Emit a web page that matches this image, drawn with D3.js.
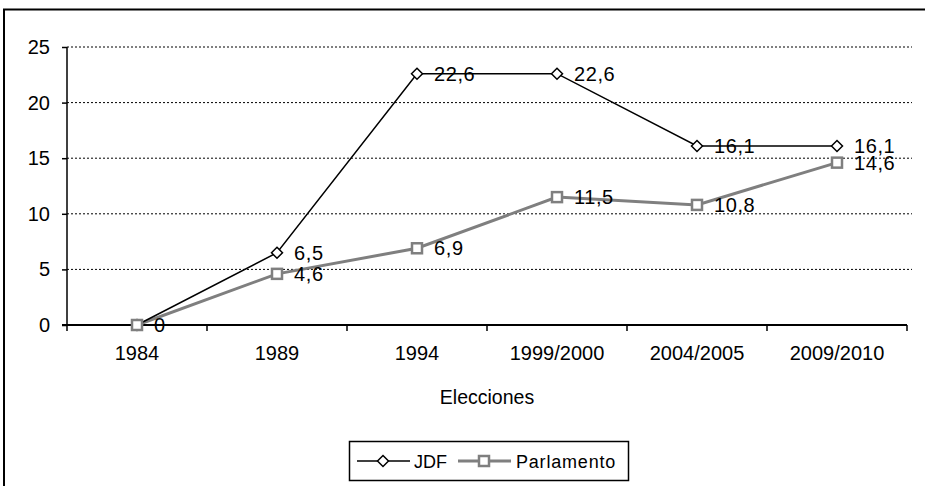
<!DOCTYPE html>
<html><head><meta charset="utf-8">
<script src="https://cdn.jsdelivr.net/npm/d3@7"></script>
<style>body{margin:0;background:#fff}svg{display:block;font-family:"Liberation Sans",Arial,sans-serif}</style>
</head><body><svg id="c" width="925" height="486"></svg>
<script>
const categories = ["1984","1989","1994","1999/2000","2004/2005","2009/2010"];
const jdf = [0,6.5,22.6,22.6,16.1,16.1];
const parlamento = [0,4.6,6.9,11.5,10.8,14.6];
const jdfLabels = ["","6,5","22,6","22,6","16,1","16,1"];
const parLabels = ["0","4,6","6,9","11,5","10,8","14,6"];
const yTicks = [0,5,10,15,20,25];

const svg = d3.select("#c");
svg.append("path").attr("d","M4,486V9.5H925").attr("fill","none").attr("stroke","#000").attr("stroke-width",2);

const x0 = 67, x1 = 907, yTop = 47, yBot = 325;
const x = d3.scaleBand().domain(categories).range([x0,x1]);
const y = d3.scaleLinear().domain([0,25]).range([yBot,yTop]);
const cx = c => x(c) + x.bandwidth()/2;

svg.append("g").selectAll("line").data(yTicks.filter(t=>t>0)).join("line")
  .attr("x1",x0).attr("x2",912).attr("y1",d=>y(d)).attr("y2",d=>y(d))
  .attr("stroke","#000").attr("stroke-width",1).attr("stroke-dasharray","2,2");

const ya = svg.append("g").attr("transform",`translate(${x0},0)`)
  .call(d3.axisLeft(y).tickValues(yTicks).tickSize(5).tickPadding(12).tickFormat(d3.format("d")));
ya.attr("font-size",20).attr("font-family","Liberation Sans, Arial");
ya.select(".domain").attr("stroke-width",1.5).attr("d",`M0,${yTop}V${yBot}`);
ya.selectAll(".tick line").attr("stroke-width",1.5);
ya.selectAll("text").attr("fill","#000");

const xa = svg.append("g").attr("transform",`translate(0,${yBot})`)
  .call(d3.axisBottom(x).tickSize(0).tickPadding(21));
xa.attr("font-size",20).attr("font-family","Liberation Sans, Arial");
xa.select(".domain").attr("stroke-width",2).attr("d",`M${x0-5},0H${x1}`);
xa.selectAll("text").attr("fill","#000");
svg.append("g").selectAll("line").data(d3.range(categories.length+1)).join("line")
  .attr("x1",i=>x0+i*x.step()).attr("x2",i=>x0+i*x.step())
  .attr("y1",yBot).attr("y2",yBot+6).attr("stroke","#000").attr("stroke-width",1.5);

svg.append("text").attr("x",(x0+x1)/2).attr("y",404).attr("text-anchor","middle")
  .attr("font-size",19.5).text("Elecciones");

const line = d3.line().x((d,i)=>cx(categories[i])).y(d=>y(d));
svg.append("path").datum(parlamento).attr("d",line).attr("fill","none").attr("stroke","#7f7f7f").attr("stroke-width",3);
svg.append("path").datum(jdf).attr("d",line).attr("fill","none").attr("stroke","#000").attr("stroke-width",1.5);

svg.append("g").selectAll("path").data(jdf).join("path")
  .attr("transform",(d,i)=>`translate(${cx(categories[i])},${y(d)})`)
  .attr("d","M0,-5.5L5.5,0L0,5.5L-5.5,0Z").attr("fill","#fff").attr("stroke","#000").attr("stroke-width",1.5);
svg.append("g").selectAll("rect").data(parlamento).join("rect")
  .attr("x",(d,i)=>cx(categories[i])-5).attr("y",d=>y(d)-5).attr("width",10).attr("height",10)
  .attr("fill","#fff").attr("stroke","#7f7f7f").attr("stroke-width",2.5);

svg.append("g").selectAll("text").data(jdf).join("text")
  .attr("x",(d,i)=>cx(categories[i])+17).attr("y",d=>y(d)+7)
  .attr("font-size",20).attr("letter-spacing",0.6).text((d,i)=>jdfLabels[i]);
svg.append("g").selectAll("text").data(parlamento).join("text")
  .attr("x",(d,i)=>cx(categories[i])+17).attr("y",d=>y(d)+7)
  .attr("font-size",20).attr("letter-spacing",0.6).text((d,i)=>parLabels[i]);

const lg = svg.append("g");
lg.append("rect").attr("x",349.5).attr("y",441.5).attr("width",279).attr("height",39).attr("fill","#fff").attr("stroke","#000").attr("stroke-width",1.5);
lg.append("line").attr("x1",357).attr("x2",410).attr("y1",461).attr("y2",461).attr("stroke","#000").attr("stroke-width",1.5);
lg.append("path").attr("transform","translate(383,461)").attr("d","M0,-5.5L5.5,0L0,5.5L-5.5,0Z").attr("fill","#fff").attr("stroke","#000").attr("stroke-width",1.5);
lg.append("text").attr("x",414).attr("y",468).attr("font-size",18).text("JDF");
lg.append("line").attr("x1",458).attr("x2",511).attr("y1",461).attr("y2",461).attr("stroke","#7f7f7f").attr("stroke-width",3);
lg.append("rect").attr("x",479).attr("y",456).attr("width",10).attr("height",10).attr("fill","#fff").attr("stroke","#7f7f7f").attr("stroke-width",2.5);
lg.append("text").attr("x",516).attr("y",468).attr("font-size",18).attr("letter-spacing",0.8).text("Parlamento");
</script></body></html>
